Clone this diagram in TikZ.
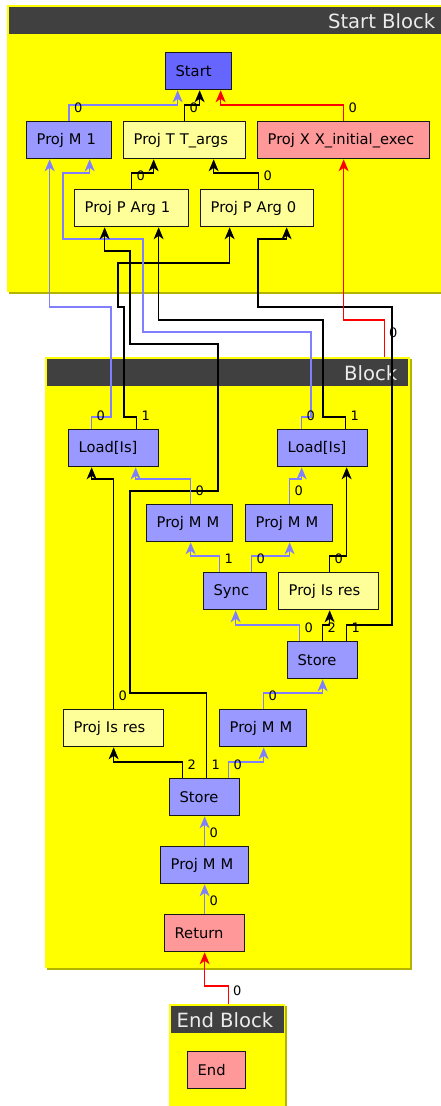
\documentclass[tikz,border=0pt]{standalone}
\usepackage{fontspec}
\setmainfont{DejaVu Sans}
\usepackage{tikz}
\usetikzlibrary{arrows.meta}
\definecolor{blkY}{RGB}{255,255,0}
\definecolor{blkO}{RGB}{180,180,0}
\definecolor{blkH}{RGB}{64,64,64}
\definecolor{nodeS}{RGB}{102,102,255}
\definecolor{nodeM}{RGB}{153,153,255}
\definecolor{nodeD}{RGB}{255,255,153}
\definecolor{nodeX}{RGB}{255,153,153}
\definecolor{edgeM}{RGB}{128,128,255}
\tikzset{
  blkbox/.style={fill=blkY, inner sep=0pt, anchor=north west},
  blkhead/.style={fill=blkH, inner sep=0pt, anchor=north west, minimum height=27pt},
  blktitle/.style={text=white!92!black, inner sep=0pt, anchor=east,
                   font=\fontsize{19.6}{22}\selectfont},
  irn/.style={draw=black!90, line width=1.3pt, fill=#1, minimum height=37pt,
              inner xsep=10pt, inner ysep=0pt, anchor=north west, align=left,
              font=\fontsize{14.7}{17}\selectfont},
  dep/.style={-{Stealth[length=12pt, width=10pt, inset=3.5pt]}, line width=1.2pt},
  memE/.style={dep, draw=edgeM, line width=1.5pt},
  datE/.style={dep, draw=black},
  ctlE/.style={dep, draw=red},
  lbl/.style={inner sep=0pt, xshift=9pt, yshift=13pt, font=\fontsize{13}{15}\selectfont}}
\begin{document}
\begin{tikzpicture}[x=1pt, y=-1pt]
  \useasboundingbox (0,0) rectangle (441,1106);
  % blocks
  \fill[blkO] (9,7) rectangle (451,294);
  \node[blkbox, minimum width=442pt, minimum height=287pt] (startBlk) at (7,5) {};
  \node[blkhead, minimum width=438pt] (startHead) at (9,7) {};
  \node[blktitle] (startTitle) at ([xshift=-12pt]startHead.east) {Start Block};
  \fill[blkO] (47,359) rectangle (412,970);
  \node[blkbox, minimum width=365pt, minimum height=611pt] (blk) at (45,357) {};
  \node[blkhead, minimum width=361pt] (blkHead) at (47,359) {};
  \node[blktitle] (blkTitle) at ([xshift=-11pt]blkHead.east) {Block};
  \fill[blkO] (171,1006) rectangle (287,1115);
  \node[blkbox, minimum width=116pt, minimum height=110pt] (endBlk) at (169,1004) {};
  \node[blkhead, minimum width=113pt] (endHead) at (171,1006) {};
  \node[blktitle] (endTitle) at ([xshift=-11pt]endHead.east) {End Block};
  % start block nodes
  \node[irn=nodeS, text width=46pt] (start) at (165,52) {Start};
  \node[irn=nodeM, text width=65pt] (projM1) at (26,121) {Proj M 1};
  \node[irn=nodeD, text width=102pt] (projT) at (123,121) {Proj T T\_args};
  \node[irn=nodeX, text width=152pt] (projX) at (257,121) {Proj X X\_initial\_exec};
  \node[irn=nodeD, text width=94pt] (argOne) at (74,189) {Proj P Arg 1};
  \node[irn=nodeD, text width=93pt] (argZero) at (200,189) {Proj P Arg 0};
  % block nodes
  \node[irn=nodeM, text width=70pt] (loadL) at (68,429) {Load[Is]};
  \node[irn=nodeM, text width=70pt] (loadR) at (277,429) {Load[Is]};
  \node[irn=nodeM, text width=66pt] (projMa) at (146,504) {Proj M M};
  \node[irn=nodeM, text width=67pt] (projMb) at (245,504) {Proj M M};
  \node[irn=nodeM, text width=43pt] (sync) at (203,572) {Sync};
  \node[irn=nodeD, text width=80pt] (resR) at (278,572) {Proj Is res};
  \node[irn=nodeM, text width=50pt] (storeA) at (287,641) {Store};
  \node[irn=nodeD, text width=80pt] (resL) at (63,709) {Proj Is res};
  \node[irn=nodeM, text width=67pt] (projMc) at (219,709) {Proj M M};
  \node[irn=nodeM, text width=50pt] (storeB) at (169,778) {Store};
  \node[irn=nodeM, text width=68pt] (projMd) at (160,846) {Proj M M};
  \node[irn=nodeX, text width=60pt] (ret) at (164,914) {Return};
  % end block
  \node[irn=nodeX, text width=38pt] (endN) at (187,1051) {End};
  % edges inside the start block
  \draw[memE] (projM1.north) node[lbl]{0} -- ++(0,-16) -| ([xshift=-21pt]start.south);
  \draw[datE] (projT.north) node[lbl]{0} -- ++(0,-16) -| ([xshift=1pt]start.south);
  \draw[ctlE] (projX.north) node[lbl]{0} -- ++(0,-16) -| ([xshift=22pt]start.south);
  \draw[datE] (argOne.north) node[lbl]{0} -- ++(0,-16) -| ([xshift=-31pt]projT.south);
  \draw[datE] ([xshift=1.5pt]argZero.north) node[lbl]{0} -- ++(0,-16) -| ([xshift=29pt]projT.south);
  % edges from the block up into the start block
  \draw[memE] ([xshift=-22pt]loadL.north) node[lbl]{0} -- ++(0,-12) -| (111,307) -| ([xshift=-19.5pt]projM1.south);
  \draw[datE] ([xshift=23pt]loadL.north) node[lbl]{1} -- ++(0,-12) -| (124,307) -| (118,263) -| ([xshift=-27.5pt]argZero.south);
  \draw[memE] ([xshift=-21pt]loadR.north) node[lbl]{0} -- ++(0,-12) -| (311,332) -| (143,239) -| (63,173) -| ([xshift=20.5pt]projM1.south);
  \draw[datE] ([xshift=23pt]loadR.north) node[lbl]{1} -- ++(0,-12) -| (323,320) -| ([xshift=27pt]argOne.south);
  \draw[datE] ([xshift=2pt]storeB.north) node[lbl]{1} -- ++(0,-85) -| (130,491) -| (218,344) -| (130,251) -| ([xshift=-27pt]argOne.south);
  \draw[datE] ([xshift=24pt]storeA.north) node[lbl]{1} -- ++(0,-16) -| (392,307) -| (258,239) -| ([xshift=29.5pt]argZero.south);
  \draw[ctlE] ([xshift=156.5pt]blk.north) node[lbl, yshift=11pt]{0} -- ++(0,-37) -| (projX.south);
  % edges inside the block
  \draw[memE] ([xshift=1pt]projMa.north) node[lbl]{0} -- ++(0,-25) -| ([xshift=22pt]loadL.south);
  \draw[datE] (resL.north) node[lbl]{0} -- ++(0,-230) -| ([xshift=-22pt]loadL.south);
  \draw[memE] ([xshift=0.5pt]projMb.north) node[lbl]{0} -- ++(0,-25) -| ([xshift=-21pt]loadR.south);
  \draw[datE] ([xshift=1pt]resR.north) node[lbl]{0} -- ++(0,-16) -| ([xshift=24pt]loadR.south);
  \draw[memE] ([xshift=-15.5pt]sync.north) node[lbl]{1} -- ++(0,-16) -| ([xshift=1pt]projMa.south);
  \draw[memE] ([xshift=16.5pt]sync.north) node[lbl]{0} -- ++(0,-16) -| ([xshift=0.5pt]projMb.south);
  \draw[memE] ([xshift=-23pt]storeA.north) node[lbl]{0} -- ++(0,-16) -| ([xshift=0.5pt]sync.south);
  \draw[datE] (storeA.north) node[lbl]{2} -- ++(0,-16) -| ([xshift=1pt]resR.south);
  \draw[memE] ([xshift=0.5pt]projMc.north) node[lbl]{0} -- ++(0,-16) -| (storeA.south);
  \draw[datE] ([xshift=-22pt]storeB.north) node[lbl]{2} -- ++(0,-16) -| (resL.south);
  \draw[memE] ([xshift=24pt]storeB.north) node[lbl]{0} -- ++(0,-16) -| ([xshift=0.5pt]projMc.south);
  \draw[memE] (projMd.north) node[lbl]{0} -- (storeB.south);
  \draw[memE] (ret.north) node[lbl]{0} -- (projMd.south);
  % end block to return
  \draw[ctlE] ([xshift=1pt]endBlk.north) node[lbl]{0} -- ++(0,-18) -| (ret.south);
\end{tikzpicture}
\end{document}
